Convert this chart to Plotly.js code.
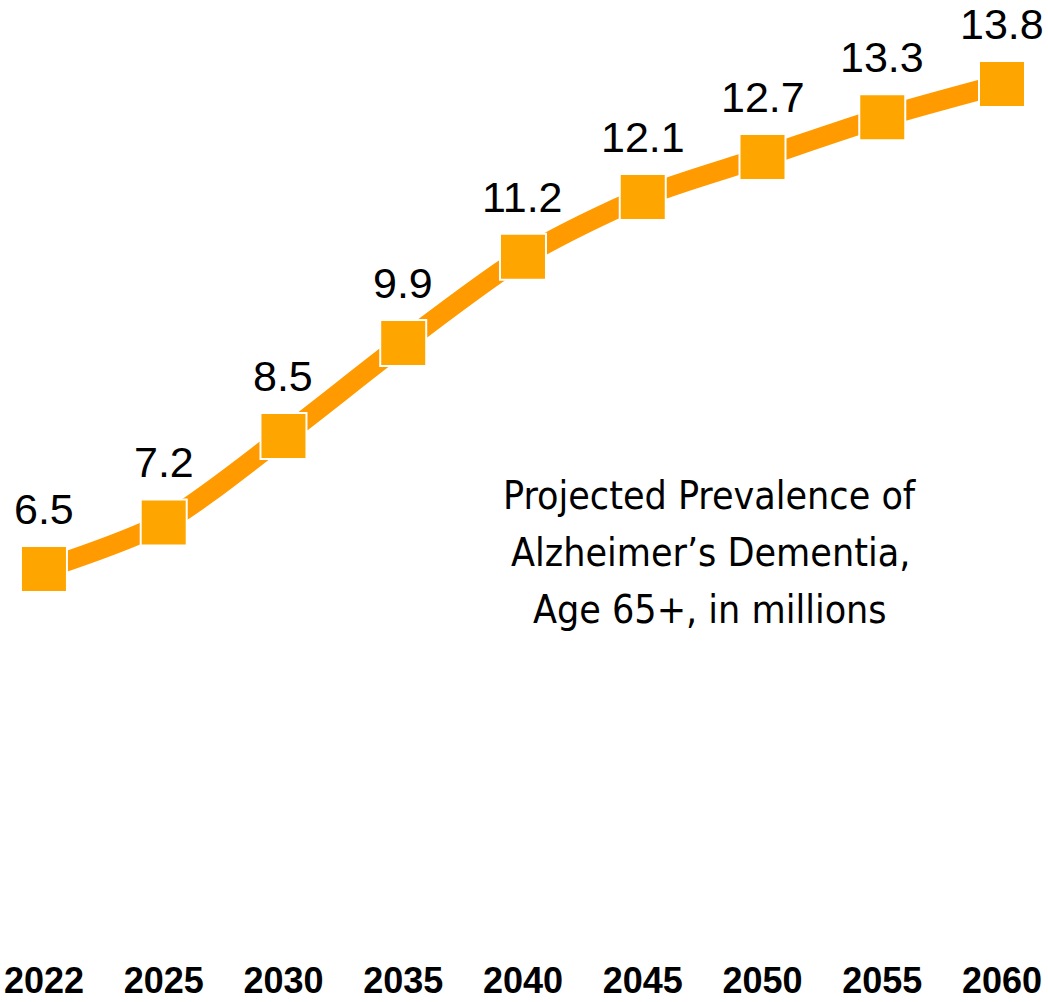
<!DOCTYPE html>
<html>
<head>
<meta charset="utf-8">
<script src="https://cdn.plot.ly/plotly-3.0.1.min.js"></script>
<style>html,body{margin:0;padding:0;background:#fff;}#chart{width:1048px;height:1002px;}</style>
</head>
<body>
<div id="chart"></div>
<script>
const years = ["2022","2025","2030","2035","2040","2045","2050","2055","2060"];
const prevalence = [6.5, 7.2, 8.5, 9.9, 11.2, 12.1, 12.7, 13.3, 13.8];
const labels = ["6.5","7.2","8.5","9.9","11.2","12.1","12.7","13.3","13.8"];
const noteLines = ["Projected Prevalence of", "Alzheimer’s Dementia,", "Age 65+, in millions"];
const noteLineY = [495, 552, 609];

const lineTrace = {
  x: years, y: prevalence, type: "scatter", mode: "lines",
  line: {color: "#FF9B00", width: 20, shape: "spline", smoothing: 0.8},
  hoverinfo: "skip", showlegend: false
};
const markerTrace = {
  x: years, y: prevalence, type: "scatter", mode: "markers",
  marker: {symbol: "square", size: 46, color: "#FFA500", line: {color: "#FFFFFF", width: 2}},
  cliponaxis: false, showlegend: false
};

const H = 1002, B = 46;
const noteAnns = noteLines.map((t, i) => ({
  xref: "paper", yref: "paper", x: 710 / 1048, y: 1 - noteLineY[i] / (H - B),
  xanchor: "center", yanchor: "middle", showarrow: false,
  text: t, align: "center",
  font: {family: "DejaVu Sans Condensed, sans-serif", size: 39, color: "#000", weight: 500}
}));
const valueAnns = labels.map((t, i) => ({
  xref: "x", yref: "y", x: i, y: prevalence[i],
  xanchor: "center", yanchor: "middle", yshift: 60, showarrow: false,
  text: t,
  font: {family: "Liberation Sans, Arial, sans-serif", size: 43, color: "#000"}
}));

const layout = {
  width: 1048, height: H,
  margin: {l: 0, r: 0, t: 0, b: B},
  paper_bgcolor: "#fff", plot_bgcolor: "#fff",
  showlegend: false,
  xaxis: {
    type: "category", range: [-0.367, 8.384],
    showgrid: false, zeroline: false, showline: false, ticks: "",
    tickfont: {family: "Liberation Sans, Arial, sans-serif", size: 36, color: "#000", weight: "bold"},
    ticklabelstandoff: 0
  },
  yaxis: {
    range: [0.675, 15.064], visible: false, showgrid: false, zeroline: false
  },
  annotations: noteAnns.concat(valueAnns)
};

Plotly.newPlot("chart", [lineTrace, markerTrace], layout, {displayModeBar: false, staticPlot: true});
</script>
</body>
</html>
